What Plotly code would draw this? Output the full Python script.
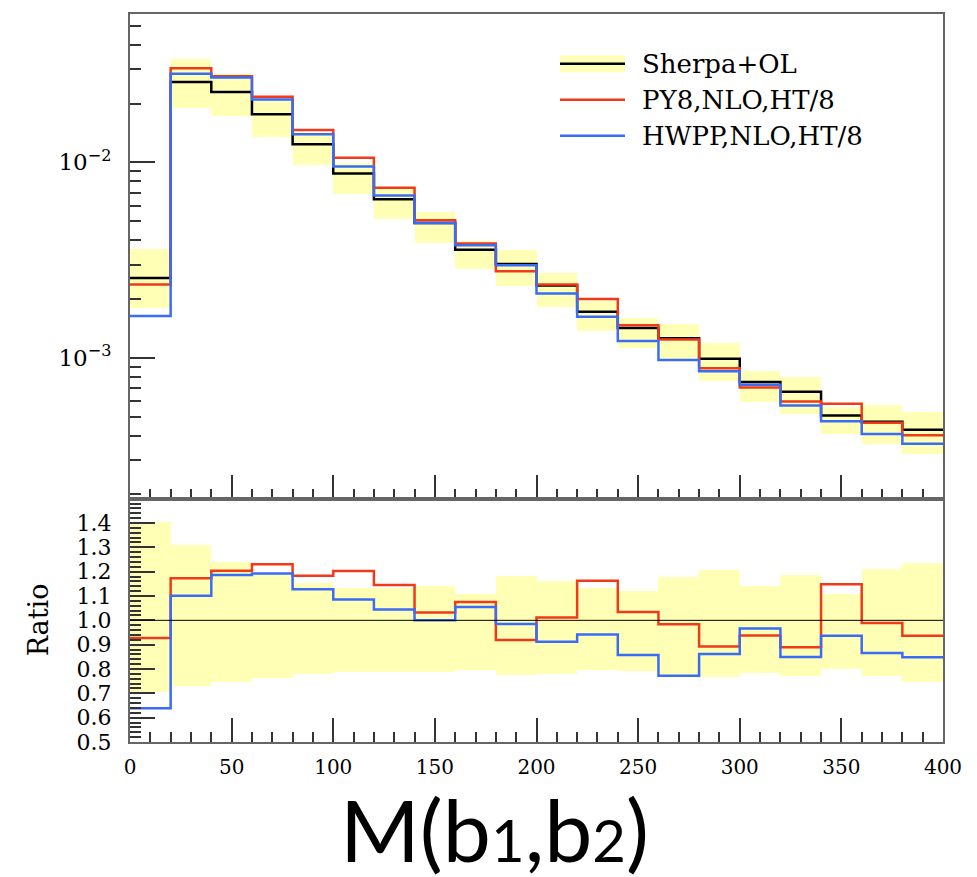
import numpy as np
import plotly.graph_objects as go

# M(b1,b2) distribution, 20 GeV bins from 0 to 400
bin_edges = list(range(0, 420, 20))

sherpa_ol = [2.56e-3, 2.58e-2, 2.29e-2, 1.76e-2, 1.236e-2, 8.76e-3, 6.48e-3, 4.90e-3,
             3.57e-3, 3.02e-3, 2.34e-3, 1.72e-3, 1.42e-3, 1.26e-3, 9.89e-4, 7.52e-4,
             6.71e-4, 5.06e-4, 4.70e-4, 4.28e-4]
py8_nlo = [2.373e-3, 3.026e-2, 2.757e-2, 2.165e-2, 1.463e-2, 1.054e-2, 7.42e-3, 5.06e-3,
           3.84e-3, 2.775e-3, 2.368e-3, 2.000e-3, 1.468e-3, 1.240e-3, 8.83e-4, 7.05e-4,
           5.97e-4, 5.81e-4, 4.65e-4, 4.01e-4]
hwpp_nlo = [1.636e-3, 2.841e-2, 2.716e-2, 2.098e-2, 1.394e-2, 9.51e-3, 6.77e-3, 4.90e-3,
            3.766e-3, 2.975e-3, 2.134e-3, 1.619e-3, 1.217e-3, 9.73e-4, 8.52e-4, 7.27e-4,
            5.70e-4, 4.74e-4, 4.07e-4, 3.63e-4]

# relative uncertainty band of Sherpa+OL (upper / lower edge over central value)
band_up = [1.405, 1.309, 1.241, 1.19, 1.156, 1.133, 1.134, 1.141, 1.110, 1.185,
           1.165, 1.133, 1.123, 1.180, 1.207, 1.143, 1.189, 1.111, 1.214, 1.235]
band_dn = [0.705, 0.733, 0.750, 0.765, 0.781, 0.790, 0.790, 0.789, 0.798, 0.775,
           0.781, 0.797, 0.794, 0.770, 0.767, 0.786, 0.772, 0.802, 0.774, 0.750]

x_ticks = [0, 50, 100, 150, 200, 250, 300, 350, 400]
log_ticks = [1e-3, 1e-2]
log_tick_labels = ["10<sup>\u22123</sup>", "10<sup>\u22122</sup>"]
ratio_ticks = [0.5, 0.6, 0.7, 0.8, 0.9, 1.0, 1.1, 1.2, 1.3, 1.4]
series_names = ["Sherpa+OL", "PY8,NLO,HT/8", "HWPP,NLO,HT/8"]

BLACK, RED, BLUE, BAND = "#000000", "#f03a1c", "#3a6cf6", "#ffffb5"
SERIF = "DejaVu Serif"

edges = np.array(bin_edges, dtype=float)
centers = 0.5 * (edges[:-1] + edges[1:])
widths = np.diff(edges)
s = np.array(sherpa_ol)
p = np.array(py8_nlo)
h = np.array(hwpp_nlo)
up = np.array(band_up)
dn = np.array(band_dn)


def steps(vals):
    return list(vals) + [vals[-1]]


fig = go.Figure()

# --- upper panel ---
fig.add_trace(go.Bar(x=centers, y=s * (up - dn), base=s * dn, width=widths,
                     marker=dict(color=BAND, line=dict(width=0)),
                     xaxis="x", yaxis="y", hoverinfo="skip"))
for vals, col in ((s, BLACK), (p, RED), (h, BLUE)):
    fig.add_trace(go.Scatter(x=edges, y=steps(vals), mode="lines", line_shape="hv",
                             line=dict(color=col, width=2.5), xaxis="x", yaxis="y"))

# --- ratio panel ---
fig.add_trace(go.Bar(x=centers, y=up - dn, base=dn, width=widths,
                     marker=dict(color=BAND, line=dict(width=0)),
                     xaxis="x2", yaxis="y2", hoverinfo="skip"))
for vals, col in ((p / s, RED), (h / s, BLUE)):
    fig.add_trace(go.Scatter(x=edges, y=steps(vals), mode="lines", line_shape="hv",
                             line=dict(color=col, width=2.5), xaxis="x2", yaxis="y2"))

fig.add_shape(type="line", xref="x2", yref="y2", x0=0, x1=400, y0=1.0, y1=1.0,
              line=dict(color=BLACK, width=1))

# plot-area geometry in pixels
L, R, T, B = 130, 943, 12, 742
SPLIT = 498
W, H = R - L, B - T


def px(xpix):
    return (xpix - L) / W


def py(ypix):
    return (B - ypix) / H


split = py(SPLIT)

frame = dict(showline=True, linecolor="#666666", linewidth=2, mirror=True,
             ticks="inside", tickcolor="#333333", tickwidth=1.5, showgrid=False,
             zeroline=False, tickfont=dict(family=SERIF, size=20, color="black"))

minor_x = dict(ticks="inside", dtick=10, tick0=0, ticklen=10, tickcolor="#333333",
               tickwidth=1.5, showgrid=False)

log_minor = [k * 10.0 ** e for e in (-4, -3, -2) for k in range(2, 10)]

fig.update_layout(
    width=977, height=877,
    margin=dict(l=L, r=977 - R, t=T, b=877 - B),
    paper_bgcolor="white", plot_bgcolor="white",
    showlegend=False, barmode="overlay", bargap=0,
    xaxis=dict(frame, domain=[0, 1], anchor="y", range=[0, 400],
               tickmode="array", tickvals=x_ticks, ticklen=24,
               showticklabels=False, minor=minor_x),
    yaxis=dict(frame, domain=[split, 1], anchor="x", type="log",
               range=[-3.721, -1.241], tickmode="array", tickvals=log_ticks,
               ticktext=log_tick_labels, ticklen=25, ticklabelstandoff=12,
               tickfont=dict(family=SERIF, size=23, color="black"),
               minor=dict(ticks="inside", tickmode="array", tickvals=log_minor,
                          ticklen=11, tickcolor="#333333", tickwidth=1.5,
                          showgrid=False)),
    xaxis2=dict(frame, domain=[0, 1], anchor="y2", range=[0, 400],
                tickmode="array", tickvals=x_ticks, ticktext=[str(v) for v in x_ticks],
                ticklen=24, ticklabelstandoff=6, minor=minor_x),
    yaxis2=dict(frame, domain=[0, split], anchor="x2", range=[0.5, 1.5],
                tickmode="array", tickvals=ratio_ticks,
                ticktext=[f"{v:.1f}" for v in ratio_ticks],
                ticklen=25, ticklabelstandoff=12,
                tickfont=dict(family=SERIF, size=22, color="black"),
                minor=dict(ticks="inside", dtick=0.02, tick0=0.5, ticklen=11,
                           tickcolor="#333333", tickwidth=1.5, showgrid=False)),
)

# y title of the ratio panel
fig.add_annotation(xref="paper", yref="paper", x=px(38), y=py(620), text="Ratio",
                   textangle=-90, showarrow=False, xanchor="center", yanchor="middle",
                   font=dict(family=SERIF, size=27, color="black"))

# x title, indices drawn smaller on the same baseline
fig.add_annotation(xref="paper", yref="paper", x=px(494), y=py(829),
                   text=("M(b<span style='font-size:58px'>1</span>,"
                         "b<span style='font-size:58px'>2</span>)"),
                   showarrow=False, xanchor="center", yanchor="middle",
                   font=dict(family="Lato", size=86, color="black"))

# legend
leg_rows = [62, 98, 134]
leg_x0, leg_x1, leg_text = 560, 625, 640
fig.add_shape(type="rect", xref="paper", yref="paper",
              x0=px(leg_x0), x1=px(leg_x1), y0=py(leg_rows[0] - 8.5), y1=py(leg_rows[0] + 8.5),
              fillcolor=BAND, line=dict(width=0), layer="above")
for yrow, col, name in zip(leg_rows, (BLACK, RED, BLUE), series_names):
    fig.add_shape(type="line", xref="paper", yref="paper",
                  x0=px(leg_x0), x1=px(leg_x1), y0=py(yrow), y1=py(yrow),
                  line=dict(color=col, width=2.5), layer="above")
    fig.add_annotation(xref="paper", yref="paper", x=px(leg_text), y=py(yrow),
                       text=name, showarrow=False, xanchor="left", yanchor="middle",
                       font=dict(family=SERIF, size=26, color="black"))

fig.write_html("out.html")
